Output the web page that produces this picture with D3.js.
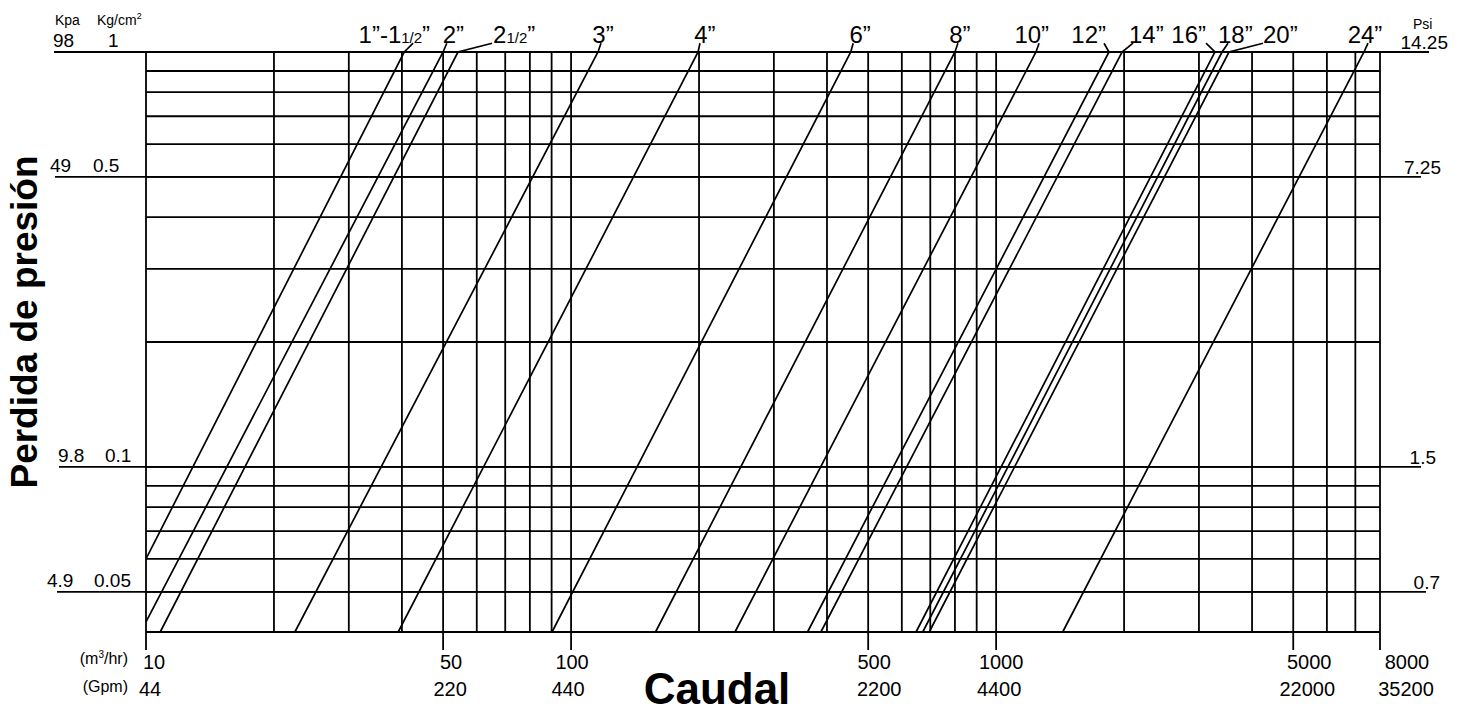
<!DOCTYPE html>
<html>
<head>
<meta charset="utf-8">
<script src="https://cdn.jsdelivr.net/npm/d3@7"></script>
<style>
  body { margin: 0; background: #fff; }
  svg { display: block; font-family: "Liberation Sans", Arial, sans-serif; }
</style>
</head>
<body>
<script>
// chart values
const flowGrid = [10, 20, 30, 40, 50, 60, 70, 80, 90, 100,
  200, 300, 400, 500, 600, 700, 800, 900, 1000,
  2000, 3000, 4000, 5000, 6000, 7000, 8000]
const lossGrid = [1, 0.9, 0.8, 0.7, 0.6, 0.5, 0.4, 0.3, 0.2,
  0.1, 0.09, 0.08, 0.07, 0.06, 0.05, 0.04]

const flowTicks = [10, 50, 100, 500, 1000, 5000, 8000]
const flowLabels = ['10', '50', '100', '500', '1000', '5000', '8000']
const gpmLabels = ['44', '220', '440', '2200', '4400', '22000', '35200']

const lossMarks = [1, 0.5, 0.1, 0.05]
const kpaLabels = ['98', '49', '9.8', '4.9']
const kgLabels = ['1', '0.5', '0.1', '0.05']
const psiLabels = ['14.25', '7.25', '1.5', '0.7']

// pipe lines: low end (flow, loss) -> flow where loss = 1 -> flow at the tag
const pipeNames = ['1\u201D-1 1/2\u201D', '2\u201D', '2 1/2\u201D', '3\u201D', '4\u201D', '6\u201D', '8\u201D',
  '10\u201D', '12\u201D', '14\u201D', '16\u201D', '18\u201D', '20\u201D', '24\u201D']
const pipeLowFlow = [10, 10, 10.8, 22.4, 39.2, 90.2, 158, 243, 360, 387, 648, 672, 696, 1434]
const pipeLowLoss = [0.06, 0.0423, 0.04, 0.04, 0.04, 0.04, 0.04, 0.04, 0.04, 0.04, 0.04, 0.04, 0.04, 0.04]
const pipeTopFlow = [40.5, 50, 54.2, 115.7, 199, 455, 800, 1241, 1843, 1978, 3272, 3400, 3531, 7336]
const pipeTagFlow = [42.5, 51, 65.2, 117.6, 201, 461, 813, 1262, 1794, 2099, 3117, 3512, 4245, 7497]

// layout
const w = 1466
const h = 715
const plotL = 146, plotR = 1380, plotT = 52, plotB = 632
const tagLoss = 1.05
const tagAnchor = ['end', 'start', 'start', 'middle', 'middle', 'middle', 'middle',
  'end', 'end', 'start', 'end', 'start', 'start', 'middle']
const tagDx = [17, -4, 1, 2, 5, 7, 2, 10, 2, -4, 0, -10, 0, -3]
const flowDx = [8, 8, 1, 6, 5, 16, 27]
const gpmDx = [4, 7, -3, 11, 3, 14, 26]
const kpaX = [53, 50, 58, 47]
const kgX = [108, 93, 105, 94]
const extLeft = [54, 55, 59, 57]
const extRight = [1429, 1421, 1421, 1426]
const psiEnd = [1448, 1441, 1436, 1440]

const svg = d3.select('body')
  .append('svg')
  .attr('width', w)
  .attr('height', h)

svg.append('rect').attr('width', w).attr('height', h).attr('fill', '#fff')

const x = d3.scaleLog().domain([10, 8000]).range([plotL, plotR])
const y = d3.scaleLog().domain([0.04, 1]).range([plotB, plotT])

const ink = '#000'
const sw = 1.8

//Grid
svg.append('g').selectAll('line')
  .data(flowGrid)
  .join('line')
  .attr('x1', d => x(d)).attr('x2', d => x(d))
  .attr('y1', y(1)).attr('y2', y(0.04))
  .attr('stroke', ink).attr('stroke-width', sw)

svg.append('g').selectAll('line')
  .data(lossGrid)
  .join('line')
  .attr('x1', x(10)).attr('x2', x(8000))
  .attr('y1', d => y(d)).attr('y2', d => y(d))
  .attr('stroke', ink).attr('stroke-width', sw)

//Extended lines at the labelled losses
svg.append('g').selectAll('line')
  .data(lossMarks)
  .join('line')
  .attr('x1', (d, i) => extLeft[i]).attr('x2', (d, i) => extRight[i])
  .attr('y1', d => y(d)).attr('y2', d => y(d))
  .attr('stroke', ink).attr('stroke-width', sw)

//Ticks below the grid
svg.append('g').selectAll('line')
  .data(flowTicks)
  .join('line')
  .attr('x1', d => x(d)).attr('x2', d => x(d))
  .attr('y1', y(0.04)).attr('y2', y(0.04) + 18)
  .attr('stroke', ink).attr('stroke-width', sw)

//Pipe lines
const line = d3.line().x(d => x(d[0])).y(d => y(d[1]))
svg.append('g').selectAll('path')
  .data(pipeNames.map((n, i) => [[pipeLowFlow[i], pipeLowLoss[i]], [pipeTopFlow[i], 1], [pipeTagFlow[i], tagLoss]]))
  .join('path')
  .attr('d', line)
  .attr('fill', 'none')
  .attr('stroke', ink)
  .attr('stroke-width', 1.7)

//Pipe tags
const tags = svg.append('g')
  .attr('font-size', 24)
  .selectAll('text')
  .data(pipeNames)
  .join('text')
  .attr('x', (d, i) => x(pipeTagFlow[i]) + tagDx[i])
  .attr('y', y(tagLoss) - 0.5)
  .attr('text-anchor', (d, i) => tagAnchor[i])

tags.each(function(d) {
  const t = d3.select(this)
  const parts = d.split(' 1/2')
  t.append('tspan').text(parts[0])
  if (parts.length > 1) {
    t.append('tspan').attr('font-size', 15).text('1/2')
    t.append('tspan').text(parts[1])
  }
})

//Left labels
const lg = svg.append('g').attr('font-size', 19)
lg.selectAll('.kpa')
  .data(kpaLabels)
  .join('text')
  .attr('class', 'kpa')
  .attr('x', (d, i) => kpaX[i])
  .attr('y', (d, i) => y(lossMarks[i]) - 5)
  .text(d => d)
lg.selectAll('.kg')
  .data(kgLabels)
  .join('text')
  .attr('class', 'kg')
  .attr('x', (d, i) => kgX[i])
  .attr('y', (d, i) => y(lossMarks[i]) - 5)
  .text(d => d)

svg.append('text')
  .attr('x', 55).attr('y', 25)
  .attr('font-size', 14)
  .text('Kpa')

const kg = svg.append('text')
  .attr('x', 97).attr('y', 25)
  .attr('font-size', 14)
kg.append('tspan').text('Kg/cm')
kg.append('tspan').attr('font-size', 9).attr('dy', -6).text('2')

//Right labels
svg.append('text')
  .attr('x', 1413).attr('y', 29)
  .attr('font-size', 14)
  .text('Psi')

svg.append('g').attr('font-size', 19)
  .selectAll('text')
  .data(psiLabels)
  .join('text')
  .attr('x', (d, i) => psiEnd[i])
  .attr('y', (d, i) => y(lossMarks[i]) - 3)
  .attr('text-anchor', 'end')
  .text(d => d)

//Bottom labels
const bg = svg.append('g').attr('font-size', 20).attr('text-anchor', 'middle')
bg.selectAll('.m3')
  .data(flowLabels)
  .join('text')
  .attr('class', 'm3')
  .attr('x', (d, i) => x(flowTicks[i]) + flowDx[i])
  .attr('y', 669)
  .text(d => d)
bg.selectAll('.gpm')
  .data(gpmLabels)
  .join('text')
  .attr('class', 'gpm')
  .attr('x', (d, i) => x(flowTicks[i]) + gpmDx[i])
  .attr('y', 696)
  .text(d => d)

const m3 = svg.append('text')
  .attr('x', 128).attr('y', 664)
  .attr('text-anchor', 'end')
  .attr('font-size', 16)
m3.append('tspan').text('(m')
m3.append('tspan').attr('font-size', 10).attr('dy', -6).text('3')
m3.append('tspan').attr('dy', 6).text('/hr)')

svg.append('text')
  .attr('x', 128).attr('y', 692)
  .attr('text-anchor', 'end')
  .attr('font-size', 16)
  .text('(Gpm)')

//Axis titles
svg.append('text')
  .attr('x', 717).attr('y', 704)
  .attr('text-anchor', 'middle')
  .attr('font-size', 44)
  .attr('font-weight', 'bold')
  .text('Caudal')

svg.append('text')
  .attr('transform', 'translate(37, 322) rotate(-90)')
  .attr('text-anchor', 'middle')
  .attr('font-size', 37)
  .attr('font-weight', 'bold')
  .text('Perdida de presión')
</script>
</body>
</html>
